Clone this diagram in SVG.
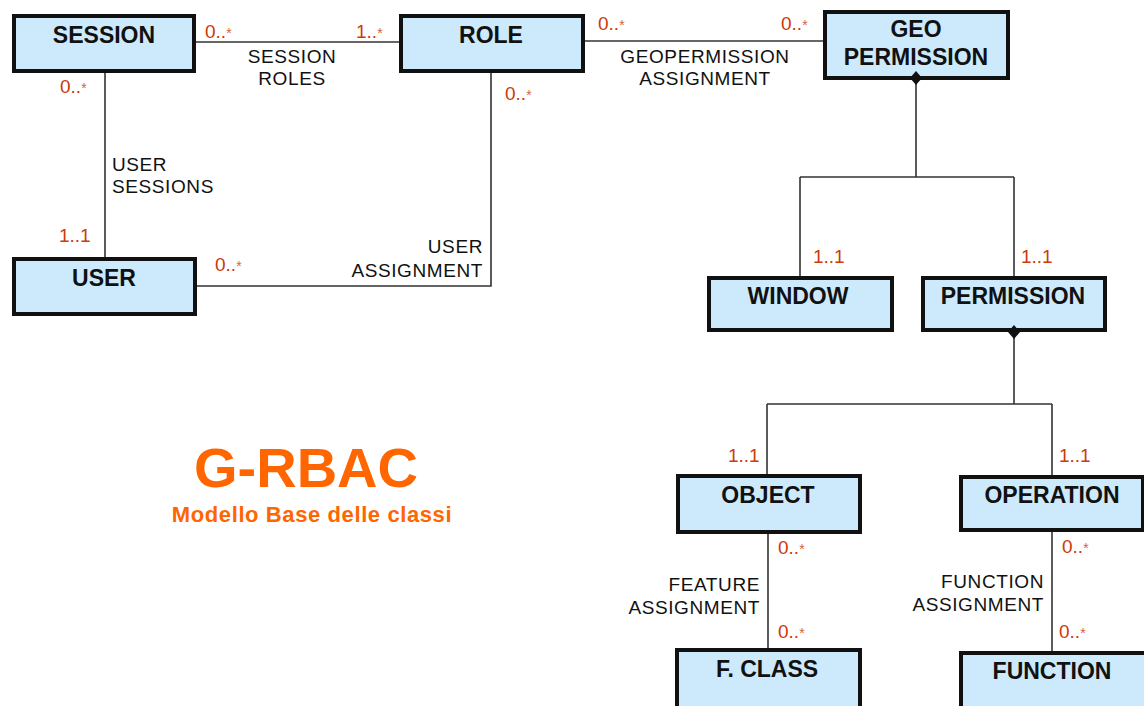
<svg xmlns="http://www.w3.org/2000/svg" width="1144" height="706" viewBox="0 0 1144 706">
  <style>
    .box { fill: #cdeafc; stroke: #111; stroke-width: 4; }
    .name { font-family: "Liberation Sans", Arial, sans-serif; font-weight: bold; font-size: 23px; fill: #111; text-anchor: middle; }
    .lbl { font-family: "Liberation Sans", Arial, sans-serif; font-size: 19px; letter-spacing: 0.6px; fill: #111; }
    .mult { font-family: "Liberation Sans", Arial, sans-serif; font-size: 19px; fill: #cc3a0a; }
    .star { font-size: 14px; fill: #d8603a; }
    .line { fill: none; stroke: #333; stroke-width: 1.6; }
    .dia { fill: #111; }
    .title { font-family: "Liberation Sans", Arial, sans-serif; font-weight: bold; fill: #ff6600; text-anchor: middle; }
  </style>
  <rect width="1144" height="706" fill="#ffffff"/>

  <!-- classes -->
  <g id="session">
    <rect class="box" x="14" y="16" width="180" height="55"/>
    <text class="name" x="104" y="43">SESSION</text>
  </g>
  <g id="role">
    <rect class="box" x="401" y="16" width="182" height="55"/>
    <text class="name" x="491" y="43">ROLE</text>
  </g>
  <g id="geo-permission">
    <rect class="box" x="825" y="12" width="183" height="66"/>
    <text class="name" x="916" y="37">GEO</text>
    <text class="name" x="916" y="65">PERMISSION</text>
  </g>
  <g id="user">
    <rect class="box" x="14" y="259" width="181" height="55"/>
    <text class="name" x="104" y="286">USER</text>
  </g>
  <g id="window">
    <rect class="box" x="709" y="278" width="183" height="52"/>
    <text class="name" x="798" y="304">WINDOW</text>
  </g>
  <g id="permission">
    <rect class="box" x="923" y="278" width="182" height="52"/>
    <text class="name" x="1013" y="304">PERMISSION</text>
  </g>
  <g id="object">
    <rect class="box" x="678" y="476" width="182" height="56"/>
    <text class="name" x="768" y="503">OBJECT</text>
  </g>
  <g id="operation">
    <rect class="box" x="961" y="477" width="182" height="53"/>
    <text class="name" x="1052" y="503">OPERATION</text>
  </g>
  <g id="feature-class">
    <rect class="box" x="677" y="650" width="183" height="62"/>
    <text class="name" x="767" y="677">F. CLASS</text>
  </g>
  <g id="function">
    <rect class="box" x="961" y="653" width="186" height="62"/>
    <text class="name" x="1052" y="679">FUNCTION</text>
  </g>

  <!-- connectors -->
  <g id="connectors">
    <line class="line" x1="196" y1="42" x2="399" y2="42"/>
    <line class="line" x1="585" y1="41" x2="823" y2="41"/>
    <line class="line" x1="105" y1="73" x2="105" y2="257"/>
    <path class="line" d="M197 286 H491 V73"/>
    <!-- GEO PERMISSION composition -->
    <path class="line" d="M916 84 V177 M800 177 H1014 M800 177 V276 M1014 177 V276"/>
    <polygon class="dia" points="916,71 922,78 916,85 910,78"/>
    <!-- PERMISSION composition -->
    <path class="line" d="M1014 338 V404 M767 404 H1052 M767 404 V474 M1052 404 V475"/>
    <polygon class="dia" points="1014,325 1020,332 1014,339 1008,332"/>
    <line class="line" x1="768" y1="534" x2="768" y2="648"/>
    <line class="line" x1="1052" y1="532" x2="1052" y2="651"/>

    <!-- association names -->
    <text class="lbl" text-anchor="middle" x="292" y="63">SESSION</text>
    <text class="lbl" text-anchor="middle" x="292" y="85">ROLES</text>
    <text class="lbl" text-anchor="middle" x="705" y="63">GEOPERMISSION</text>
    <text class="lbl" text-anchor="middle" x="705" y="85">ASSIGNMENT</text>
    <text class="lbl" x="112" y="171">USER</text>
    <text class="lbl" x="112" y="193">SESSIONS</text>
    <text class="lbl" text-anchor="end" x="483" y="253">USER</text>
    <text class="lbl" text-anchor="end" x="483" y="277">ASSIGNMENT</text>
    <text class="lbl" text-anchor="end" x="760" y="591">FEATURE</text>
    <text class="lbl" text-anchor="end" x="760" y="614">ASSIGNMENT</text>
    <text class="lbl" text-anchor="end" x="1044" y="588">FUNCTION</text>
    <text class="lbl" text-anchor="end" x="1044" y="611">ASSIGNMENT</text>

    <!-- multiplicities -->
    <text class="mult" x="205" y="38">0..<tspan class="star">*</tspan></text>
    <text class="mult" x="356" y="38">1..<tspan class="star">*</tspan></text>
    <text class="mult" x="598" y="30">0..<tspan class="star">*</tspan></text>
    <text class="mult" x="781" y="30">0..<tspan class="star">*</tspan></text>
    <text class="mult" x="60" y="93">0..<tspan class="star">*</tspan></text>
    <text class="mult" x="59" y="242">1..1</text>
    <text class="mult" x="505" y="100">0..<tspan class="star">*</tspan></text>
    <text class="mult" x="215" y="271">0..<tspan class="star">*</tspan></text>
    <text class="mult" x="813" y="263">1..1</text>
    <text class="mult" x="1021" y="263">1..1</text>
    <text class="mult" x="728" y="462">1..1</text>
    <text class="mult" x="1059" y="462">1..1</text>
    <text class="mult" x="778" y="554">0..<tspan class="star">*</tspan></text>
    <text class="mult" x="778" y="638">0..<tspan class="star">*</tspan></text>
    <text class="mult" x="1062" y="553">0..<tspan class="star">*</tspan></text>
    <text class="mult" x="1059" y="638">0..<tspan class="star">*</tspan></text>
  </g>

  <!-- title -->
  <g id="title">
    <text class="title" x="306" y="487" font-size="56">G-RBAC</text>
    <text class="title" x="312" y="522" font-size="22" letter-spacing="0.6">Modello Base delle classi</text>
  </g>
</svg>
